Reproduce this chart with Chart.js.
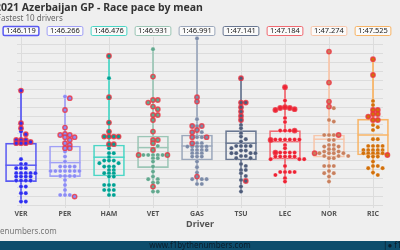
<!DOCTYPE html>
<html>
<head>
<meta charset="utf-8">
<script src="https://cdn.jsdelivr.net/npm/chart.js@4.4.1/dist/chart.umd.min.js"></script>
<style>
  html, body { margin: 0; padding: 0; background: #efefef; }
  #wrap { width: 400px; height: 250px; }
</style>
</head>
<body>
<div id="wrap"><canvas id="paceChart" width="400" height="250"></canvas></div>
<script>
// Azerbaijan 2021 - race pace, lap times in seconds

const drivers = ['VER', 'PER', 'HAM', 'VET', 'GAS', 'TSU', 'LEC', 'NOR', 'RIC'];
const meanLabels = ['1:46.119', '1:46.266', '1:46.476', '1:46.931', '1:46.991', '1:47.141', '1:47.184', '1:47.274', '1:47.525'];

// box stats
const q1 = [104.82, 105.07, 105.1, 105.52, 105.9, 105.9, 105.94, 106.04, 106.15];
const medians = [105.64, 105.77, 106.04, 106.52, 106.6, 106.74, 106.82, 106.94, 107.15];
const q3 = [106.74, 106.6, 106.65, 107.1, 107.15, 107.37, 107.37, 107.15, 107.94];

// plain laps and laps drawn with a red ring
const lapsVER = [107.32, 105.94, 105.7, 105.7, 105.49, 105.49, 105.49, 105.24, 105.24, 105.24, 105.24, 105.24, 105.24, 105.07, 105.07, 105.07, 105.07, 104.87, 104.87, 104.87, 104.87, 104.87, 104.57, 104.57, 104.24, 104.24, 103.82, 103.82];
const ringVER = [109.37, 107.74, 107.49, 107.19, 106.9, 106.9, 106.9, 106.8, 106.74, 106.74, 106.74];
const lapsPER = [109.07, 106.32, 106.07, 105.82, 105.57, 105.57, 105.57, 105.57, 105.35, 105.35, 105.35, 105.35, 105.35, 105.35, 105.35, 105.1, 105.1, 105.1, 105.1, 104.9, 104.65, 104.4, 104.15, 104.15, 104.15];
const ringPER = [108.99, 108.4, 107.52, 107.2, 107.15, 107.15, 107.04, 107.04, 106.9, 106.74, 106.65, 106.49, 106.49, 104.07];
const lapsHAM = [109.99, 106.49, 106.24, 106.24, 106.04, 105.87, 105.87, 105.87, 105.74, 105.74, 105.57, 105.57, 105.57, 105.4, 105.4, 105.24, 105.24, 105.24, 105.07, 105.07, 104.65, 104.65, 104.65, 104.4, 104.4, 104.4, 104.15, 104.15];
const ringHAM = [111.1, 109.04, 107.77, 107.32, 107.07, 107.07, 107.07, 107.07, 106.69, 106.69];
const lapsVET = [111.44, 106.6, 106.15, 106.15, 106.15, 106.15, 106.15, 105.99, 105.99, 105.82, 105.57, 105.32, 105.07, 104.94, 104.94, 104.77, 104.77, 104.32, 104.32];
const ringVET = [110.07, 108.9, 108.9, 108.77, 108.57, 108.44, 108.15, 108.15, 107.9, 107.32, 106.9, 106.9, 106.74, 106.4, 106.15, 106.15, 104.57];
const lapsGAS = [111.98, 107.94, 107.6, 107.29, 107.04, 107.04, 106.74, 106.74, 106.57, 106.57, 106.57, 106.57, 106.57, 106.4, 106.4, 106.4, 106.4, 106.24, 106.24, 106.24, 106.07, 106.07, 106.07, 105.82, 105.54, 105.27, 104.94, 104.94, 104.94, 104.7, 104.7];
const ringGAS = [109.04, 108.82, 107.6, 107.6, 107.4, 107.29, 107.04, 107.04, 106.74, 105.07];
const lapsTSU = [107.65, 107.49, 107.24, 107.07, 106.94, 106.82, 106.6, 106.6, 106.6, 106.6, 106.49, 106.37, 106.37, 106.24, 106.24, 106.24, 106.24, 106.1, 106.1, 105.99, 105.99, 105.7, 105.6, 105.4, 105.4, 105.24, 105.1, 104.9, 104.57, 104.32];
const ringTSU = [109.99, 108.77, 108.77, 108.54, 108.32, 108.1, 107.9, 104.85];
const lapsLEC = [108.87, 108.0, 107.8, 107.37, 107.37, 107.37, 106.92, 106.92, 106.92, 106.92, 106.92, 106.92, 106.65, 106.49, 106.27, 106.27, 106.27, 106.27, 106.07, 106.07, 106.07, 106.07, 106.07, 105.94, 105.94, 105.94, 105.6, 105.3, 105.3, 105.3, 105.3, 105.15, 104.99, 104.82];
const ringLEC = [109.54, 108.54, 108.5, 108.5, 108.44, 108.4, 107.37, 106.9, 106.27];
const lapsNOR = [108.49, 107.9, 107.82, 107.15, 107.15, 107.15, 106.9, 106.9, 106.65, 106.65, 106.57, 106.57, 106.44, 106.44, 106.32, 106.32, 106.24, 106.24, 106.24, 106.24, 106.1, 106.1, 106.1, 105.99, 105.99, 105.6, 105.6, 105.6, 105.35, 105.24, 105.24, 105.07, 104.82];
const ringNOR = [111.32, 109.77, 108.82, 108.57, 107.15, 106.24];
const lapsRIC = [108.85, 108.65, 107.65, 107.54, 107.4, 106.94, 106.94, 106.6, 106.6, 106.6, 106.6, 106.4, 106.4, 106.4, 106.4, 106.4, 106.24, 106.24, 106.24, 106.24, 106.24, 106.07, 106.07, 106.07, 105.82, 105.6, 105.6, 105.49, 105.49, 105.27, 105.15];
const ringRIC = [110.94, 110.15, 108.4, 108.4, 108.2, 108.2, 108.07, 107.9, 107.9, 106.15];

const lapSets = [lapsVER, lapsPER, lapsHAM, lapsVET, lapsGAS, lapsTSU, lapsLEC, lapsNOR, lapsRIC];
const ringSets = [ringVER, ringPER, ringHAM, ringVET, ringGAS, ringTSU, ringLEC, ringNOR, ringRIC];

const pointColors = ['#2f2ff0', '#8c8cf4', '#00a193', '#62a88e', '#7c8ba8', '#4e5c7a', '#ee2233', '#c8805e', '#d2700a'];
const boxColors = ['#5a5af2', '#a0a0f6', '#4cd6c6', '#9cc6b6', '#9ca8bc', '#6a7892', '#f06a72', '#f8c6aa', '#f8b466'];
const ringColor = 'rgba(236,50,64,0.8)';

// axis windows, corrected after the first layout so categories sit 44px apart
const xRange = { min: -0.477, max: 8.614 };
const yRange = { min: 103.5, max: 112.05 };

const allLaps = lapSets.map((l, i) => l.concat(ringSets[i]));

const datasets = [];
drivers.forEach((d, i) => {
  datasets.push({
    type: 'scatter', label: d + ' ring', order: 0, clip: false,
    data: ringSets[i].map(t => ({ x: i, y: t })),
    pointRadius: 2.2, pointBackgroundColor: pointColors[i],
    pointBorderColor: ringColor, pointBorderWidth: 1.4
  });
  datasets.push({
    type: 'scatter', label: d, order: 1, clip: false,
    data: lapSets[i].map(t => ({ x: i, y: t })),
    pointRadius: 2.1, pointBackgroundColor: pointColors[i],
    pointBorderColor: 'rgba(255,255,255,0.5)', pointBorderWidth: 0.5
  });
});

datasets.push({
  type: 'scatter', label: 'median', order: 3, clip: false,
  data: medians.map((m, i) => ({ x: i, y: m })),
  pointStyle: 'line', pointRadius: 15.5,
  pointBorderColor: boxColors, pointBorderWidth: 1.5
});
datasets.push({
  type: 'bar', label: 'box', order: 4, clip: false,
  data: drivers.map((d, i) => ({ x: i, y: [q1[i], q3[i]] })),
  backgroundColor: 'rgba(0,0,0,0)', borderColor: boxColors,
  borderWidth: 1, borderSkipped: false, barThickness: 31
});
drivers.forEach((d, i) => {
  datasets.push({
    type: 'line', label: d + ' whisker', order: 5, clip: false,
    data: [
      { x: i, y: Math.max(...allLaps[i]) }, { x: i, y: q3[i] },
      { x: i, y: null },
      { x: i, y: q1[i] }, { x: i, y: Math.min(...allLaps[i]) }
    ],
    borderColor: boxColors[i], borderWidth: 1, pointRadius: 0, spanGaps: false
  });
});

const decor = {
  id: 'decor',
  beforeDraw(chart) {
    const ctx = chart.ctx;
    ctx.save();
    ctx.fillStyle = '#efefef';
    ctx.fillRect(0, 0, chart.width, chart.height);
    ctx.restore();
  },
  afterDraw(chart) {
    const ctx = chart.ctx;
    const xs = chart.scales.x;
    ctx.save();
    ctx.textBaseline = 'middle';

    // title, cut at the left edge like the reference
    ctx.font = 'bold 10.5px "Noto Sans"';
    ctx.fillStyle = '#333';
    ctx.textAlign = 'left';
    ctx.fillText('2021 Azerbaijan GP - Race pace by mean', 1 - ctx.measureText('2').width, 8);
    ctx.font = '8px "Noto Sans"';
    ctx.fillStyle = '#666';
    ctx.fillText('Fastest 10 drivers', 1 - ctx.measureText('F').width, 18.5);

    // mean labels
    ctx.font = '7.5px "Noto Sans"';
    ctx.textAlign = 'center';
    drivers.forEach((d, i) => {
      const cx = xs.getPixelForValue(i);
      const w = ctx.measureText(meanLabels[i]).width + 6;
      ctx.fillStyle = '#fafafa';
      ctx.strokeStyle = boxColors[i];
      ctx.lineWidth = i === 0 ? 1.5 : 1;
      ctx.beginPath();
      ctx.roundRect(cx - w / 2, 26.5, w, 9, 1.5);
      ctx.fill();
      ctx.stroke();
      ctx.fillStyle = '#222';
      ctx.fillText(meanLabels[i], cx, 31.2);
    });

    // watermark
    ctx.textAlign = 'left';
    ctx.font = '8px "Noto Sans"';
    ctx.fillStyle = '#777';
    ctx.fillText('f1bythenumbers.com', -ctx.measureText('f1byth').width, 232);

    // bottom banner
    ctx.fillStyle = '#0d4d6c';
    ctx.fillRect(0, 241, 400, 9);
    ctx.fillStyle = '#0a1d2c';
    ctx.textAlign = 'center';
    ctx.fillText('www.f1bythenumbers.com', 200, 246);
    ctx.textAlign = 'left';
    ctx.fillText('|\u25CF f1bythenumbers', 383, 246);
    ctx.restore();
  }
};

const chart = new Chart(document.getElementById('paceChart'), {
  type: 'scatter',
  data: { datasets },
  options: {
    responsive: false,
    animation: false,
    events: [],
    layout: { padding: { top: 37, bottom: 20, left: 0, right: 0 } },
    plugins: { legend: { display: false }, tooltip: { enabled: false } },
    scales: {
      x: {
        type: 'linear', offset: false, bounds: 'data',
        grid: { color: '#dcdcdc', drawTicks: false, offset: false },
        border: { display: false },
        afterFit: scale => {
          scale.height = 22;
          scale.paddingLeft = 0;
          scale.paddingRight = 0;
        },
        afterBuildTicks: scale => {
          scale.min = xRange.min;
          scale.max = xRange.max;
          scale.ticks = drivers.map((d, i) => ({ value: i }));
        },
        ticks: {
          autoSkip: false, maxRotation: 0, padding: 2,
          color: '#555', font: { family: '"Noto Sans"', size: 7, weight: 'bold' },
          callback: v => drivers[v] ?? ''
        },
        title: {
          display: true, text: 'Driver', color: '#555', padding: { top: 0, bottom: 0 },
          font: { family: '"Noto Sans"', size: 9, weight: 'bold' }
        }
      },
      y: {
        type: 'linear', bounds: 'data',
        grid: { color: '#dcdcdc', drawTicks: false },
        border: { display: false },
        ticks: { display: false },
        afterFit: scale => {
          scale.width = 0;
          scale.paddingTop = 0;
          scale.paddingBottom = 0;
        },
        afterBuildTicks: scale => {
          scale.min = yRange.min;
          scale.max = yRange.max;
          const ticks = [];
          for (let v = 103.635; v < 112; v += 0.4465) ticks.push({ value: v });
          scale.ticks = ticks;
        }
      }
    }
  },
  plugins: [decor]
});

// nudge the axis windows until VER sits at 21px, 44px per driver, 20px per second
function calibrate(chart) {
  for (let n = 0; n < 5; n++) {
    const xs = chart.scales.x, ys = chart.scales.y, area = chart.chartArea;
    const ax = xs.getPixelForValue(0), bx = xs.getPixelForValue(1) - ax;
    const ay = ys.getPixelForValue(104), by = ys.getPixelForValue(105) - ay;
    if (!isFinite(bx) || !isFinite(by) || bx === 0 || by === 0) break;
    xRange.min += (area.left - 21) / 44 - (area.left - ax) / bx;
    xRange.max += (area.right - 21) / 44 - (area.right - ax) / bx;
    yRange.min += (113.9 - area.bottom / 20) - (104 + (area.bottom - ay) / by);
    yRange.max += (113.9 - area.top / 20) - (104 + (area.top - ay) / by);
    chart.update('none');
  }
}

// beeswarm spread of the points around each category
function spreadPoints(chart) {
  const xs = chart.scales.x, ys = chart.scales.y;
  const pxPerCat = xs.getPixelForValue(1) - xs.getPixelForValue(0);
  const step = 4.8, minDist = 3.0;
  drivers.forEach((d, i) => {
    const pts = [];
    lapSets[i].forEach(t => pts.push({ t, ring: false }));
    ringSets[i].forEach(t => pts.push({ t, ring: true }));
    pts.sort((a, b) => b.t - a.t);
    const placed = [];
    const ringData = [], plainData = [];
    pts.forEach(p => {
      const py = ys.getPixelForValue(p.t);
      let dx = 0;
      for (let k = 0; k < 60; k++) {
        const cand = (k % 2 ? 1 : -1) * Math.ceil(k / 2) * step;
        const hit = placed.some(q => (q.dx - cand) ** 2 + (q.py - py) ** 2 < minDist * minDist);
        if (!hit) { dx = cand; break; }
      }
      placed.push({ dx, py });
      (p.ring ? ringData : plainData).push({ x: i + dx / pxPerCat, y: p.t });
    });
    chart.data.datasets[i * 2].data = ringData;
    chart.data.datasets[i * 2 + 1].data = plainData;
  });
  chart.update('none');
}
calibrate(chart);
spreadPoints(chart);
</script>
</body>
</html>
